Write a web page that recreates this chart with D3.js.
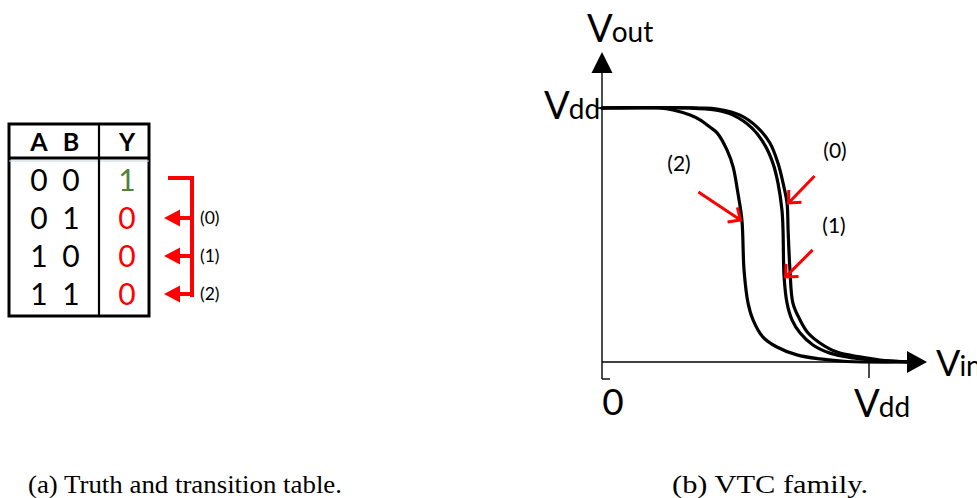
<!DOCTYPE html>
<html>
<head>
<meta charset="utf-8">
<script src="https://cdn.jsdelivr.net/npm/d3@7"></script>
<style>
  html, body { margin: 0; padding: 0; background: #fff; }
  svg { display: block; }
</style>
</head>
<body>
<svg id="fig" width="977" height="498"></svg>
<script>
// ---- Truth table of a 2-input NOR gate ----
const inputA = [0, 0, 1, 1];
const inputB = [0, 1, 0, 1];
const outputY = [1, 0, 0, 0];
const transitionLabels = ["(0)", "(1)", "(2)"];

// ---- Voltage transfer curves, [Vin/Vdd, Vout/Vdd] ----
const vtc0 = [
  [0.000, 1.000], [0.367, 1.000], [0.431, 0.996], [0.517, 0.972], [0.581, 0.925],
  [0.629, 0.862], [0.659, 0.783], [0.678, 0.705], [0.693, 0.626], [0.697, 0.520],
  [0.704, 0.362], [0.715, 0.232], [0.742, 0.165], [0.772, 0.114], [0.816, 0.075],
  [0.880, 0.039], [0.966, 0.020], [1.041, 0.008], [1.150, 0.000]
];
const vtc1 = [
  [0.000, 1.000], [0.330, 1.000], [0.423, 0.992], [0.491, 0.972], [0.562, 0.921],
  [0.610, 0.854], [0.640, 0.783], [0.659, 0.705], [0.674, 0.598], [0.678, 0.520],
  [0.682, 0.335], [0.693, 0.232], [0.712, 0.165], [0.742, 0.114], [0.790, 0.067],
  [0.854, 0.035], [0.940, 0.016], [1.004, 0.008], [1.150, 0.000]
];
const vtc2 = [
  [0.000, 1.000], [0.217, 1.000], [0.266, 0.992], [0.330, 0.972], [0.367, 0.953],
  [0.404, 0.925], [0.431, 0.902], [0.468, 0.835], [0.491, 0.768], [0.509, 0.665],
  [0.524, 0.559], [0.532, 0.362], [0.547, 0.232], [0.566, 0.165], [0.603, 0.098],
  [0.655, 0.059], [0.730, 0.028], [0.816, 0.012], [0.918, 0.002], [1.150, 0.000]
];
const xTickLabels = ["0", "Vdd"];

const svg = d3.select("#fig");
const RED = "#ff0000";
const GREEN = "#548235";
const uiFont = "Lato, 'Open Sans', sans-serif";
const serif = "'Liberation Serif', 'Times New Roman', serif";

// =================== (a) truth table ===================
const table = svg.append("g");
const tbl = { x0: 9, x1: 149, y0: 124, y1: 316, head: 158, split: 99 };
const rowY = d3.scalePoint().domain(d3.range(inputA.length)).range([180, 294]);
const colX = { a: 39, b: 71, y: 127 };

table.append("rect")
  .attr("x", tbl.x0).attr("y", tbl.y0)
  .attr("width", tbl.x1 - tbl.x0).attr("height", tbl.y1 - tbl.y0)
  .attr("fill", "none").attr("stroke", "#000").attr("stroke-width", 3);
table.append("line")
  .attr("x1", tbl.x0).attr("x2", tbl.x1).attr("y1", tbl.head).attr("y2", tbl.head)
  .attr("stroke", "#000").attr("stroke-width", 3);
table.append("line")
  .attr("x1", tbl.x0).attr("x2", tbl.x1).attr("y1", tbl.head + 3).attr("y2", tbl.head + 3)
  .attr("stroke", "#c9d3e0").attr("stroke-width", 1);
table.append("line")
  .attr("x1", tbl.split).attr("x2", tbl.split).attr("y1", tbl.y0).attr("y2", tbl.y1)
  .attr("stroke", "#000").attr("stroke-width", 2.2);

// header
[["A", colX.a], ["B", colX.b], ["Y", colX.y]].forEach(([t, cx]) => {
  table.append("text").attr("x", cx).attr("y", 151)
    .attr("text-anchor", "middle").attr("font-family", uiFont)
    .attr("font-weight", 700).attr("font-size", 25).attr("fill", "#000").text(t);
});

// rows
const cell = (t, cx, cy, fill) => table.append("text")
  .attr("x", cx).attr("y", cy + 11).attr("text-anchor", "middle")
  .attr("font-family", uiFont).attr("font-size", 30).attr("fill", fill).text(t);
inputA.forEach((a, i) => {
  const cy = rowY(i);
  cell(a, colX.a, cy, "#000");
  cell(inputB[i], colX.b, cy, "#000");
  cell(outputY[i], colX.y, cy, outputY[i] === 1 ? GREEN : RED);
});

// transition bracket: from the high output row to each low output row
const bracket = svg.append("g").attr("stroke", RED).attr("fill", RED);
const bx = 192, bStart = 168, tipX = 164, headLen = 16, headHalf = 8.5;
bracket.append("path")
  .attr("d", `M${bStart},${rowY(0) - 2}H${bx}V${rowY(3) + 3}`)
  .attr("fill", "none").attr("stroke-width", 4);
transitionLabels.forEach((lab, k) => {
  const cy = rowY(k + 1);
  bracket.append("line")
    .attr("x1", bx).attr("x2", tipX + headLen - 2).attr("y1", cy).attr("y2", cy)
    .attr("stroke-width", 4);
  bracket.append("path")
    .attr("d", `M${tipX},${cy}L${tipX + headLen},${cy - headHalf}L${tipX + headLen},${cy + headHalf}Z`)
    .attr("stroke", "none");
  svg.append("text").attr("x", 200).attr("y", cy + 6)
    .attr("font-family", uiFont).attr("font-size", 17.5).attr("fill", "#000").text(lab);
});

// =================== (b) VTC family ===================
const x = d3.scaleLinear().domain([0, 1]).range([602, 869]);
const y = d3.scaleLinear().domain([0, 1]).range([362, 108]);

const axes = svg.append("g").attr("stroke", "#000").attr("fill", "none");
// vertical axis with arrow
axes.append("line").attr("x1", x(0)).attr("x2", x(0))
  .attr("y1", y(0) + 17).attr("y2", 70).attr("stroke-width", 1.4);
axes.append("path")
  .attr("d", `M${x(0)},52L${x(0) + 10.5},73L${x(0) - 10.5},73Z`)
  .attr("fill", "#000").attr("stroke", "none");
// foot of the origin tick
axes.append("line").attr("x1", x(0)).attr("x2", x(0) + 8)
  .attr("y1", y(0) + 17).attr("y2", y(0) + 17).attr("stroke-width", 1.4);
// Vdd tick on the vertical axis
axes.append("line").attr("x1", x(0) - 5).attr("x2", x(0))
  .attr("y1", y(1)).attr("y2", y(1)).attr("stroke-width", 1.6);
// horizontal axis with arrow
axes.append("line").attr("x1", x(0)).attr("x2", 910)
  .attr("y1", y(0)).attr("y2", y(0)).attr("stroke-width", 1.4);
axes.append("path")
  .attr("d", `M927,${y(0)}L907,${y(0) - 11}L907,${y(0) + 11}Z`)
  .attr("fill", "#000").attr("stroke", "none");
// Vdd tick on the horizontal axis
axes.append("line").attr("x1", x(1)).attr("x2", x(1))
  .attr("y1", y(0)).attr("y2", y(0) + 16).attr("stroke-width", 1.4);

// curves
const line = d3.line().x(d => x(d[0])).y(d => y(d[1])).curve(d3.curveCatmullRom.alpha(0.5));
svg.append("g").selectAll("path").data([vtc2, vtc1, vtc0]).join("path")
  .attr("d", line).attr("fill", "none").attr("stroke", "#000")
  .attr("stroke-width", 3.2).attr("stroke-linecap", "round");

// labels built from a main letter and a smaller suffix
function voltLabel(px, py, main, sub, big = 38, small = 28) {
  const t = svg.append("text").attr("x", px).attr("y", py)
    .attr("font-family", uiFont).attr("fill", "#000");
  t.append("tspan").attr("font-size", big).text(main);
  t.append("tspan").attr("font-size", small).attr("dx", -1).text(sub);
  return t;
}
voltLabel(587, 42, "V", "out");
voltLabel(544, 119, "V", "dd");
voltLabel(936, 376, "V", "in", 36, 28);
voltLabel(854, 417, "V", "dd");
svg.append("text").attr("x", x(0) + 11).attr("y", 415).attr("text-anchor", "middle")
  .attr("font-family", uiFont).attr("font-size", 37).attr("fill", "#000").text(xTickLabels[0]);

// red arrows pointing at each curve
const arrows = [
  { curve: vtc0, idx: 8, dx: 26, dy: -27, lab: transitionLabels[0], lx: 835, ly: 158 },
  { curve: vtc1, idx: 10, dx: 27, dy: -27, lab: transitionLabels[1], lx: 834, ly: 233 },
  { curve: vtc2, idx: 10, dx: -42, dy: -28, lab: transitionLabels[2], lx: 679, ly: 171 }
];
const ag = svg.append("g").attr("stroke", RED).attr("stroke-width", 3)
  .attr("fill", "none").attr("stroke-linecap", "butt");
arrows.forEach(a => {
  const p = a.curve[a.idx];
  const tx = x(p[0]) + 1.5 * Math.sign(a.dx), ty = y(p[1]);
  const sx = tx + a.dx, sy = ty + a.dy;
  const ang = Math.atan2(sy - ty, sx - tx);
  const hl = 13, spread = Math.PI / 4.2;
  ag.append("line").attr("x1", sx).attr("y1", sy).attr("x2", tx).attr("y2", ty);
  ag.append("path").attr("d",
    `M${tx + hl * Math.cos(ang - spread)},${ty + hl * Math.sin(ang - spread)}` +
    `L${tx},${ty}` +
    `L${tx + hl * Math.cos(ang + spread)},${ty + hl * Math.sin(ang + spread)}`)
    .attr("stroke-linejoin", "miter");
  svg.append("text").attr("x", a.lx).attr("y", a.ly).attr("text-anchor", "middle")
    .attr("font-family", uiFont).attr("font-size", 21).attr("fill", "#000").text(a.lab);
});

// =================== captions ===================
svg.append("text").attr("x", 28).attr("y", 493)
  .attr("font-family", serif).attr("font-size", 26).attr("fill", "#000")
  .attr("textLength", 314).attr("lengthAdjust", "spacingAndGlyphs")
  .text("(a) Truth and transition table.");
svg.append("text").attr("x", 672).attr("y", 493)
  .attr("font-family", serif).attr("font-size", 26).attr("fill", "#000")
  .attr("textLength", 196).attr("lengthAdjust", "spacingAndGlyphs")
  .text("(b) VTC family.");
</script>
</body>
</html>
